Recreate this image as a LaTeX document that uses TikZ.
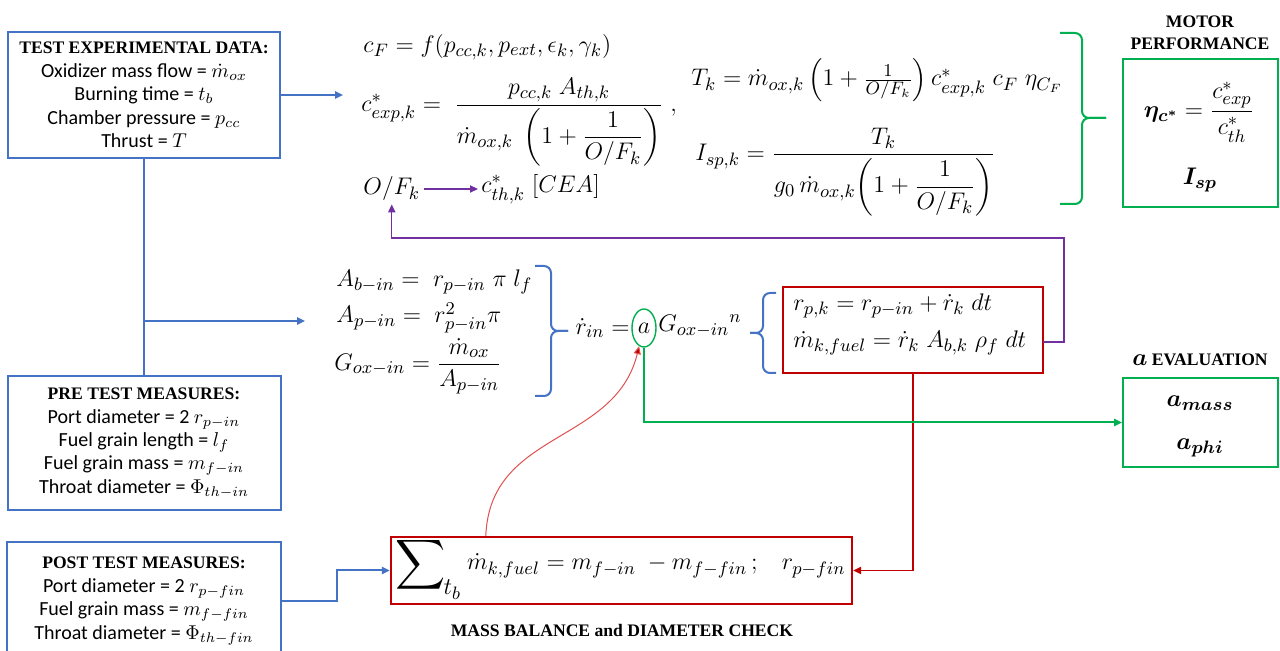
\documentclass[tikz,border=0pt]{standalone}
\usepackage{amsmath}
\usepackage{fontspec}
\setmainfont{Carlito}
\newfontfamily\hdrfont{Liberation Serif}
\usetikzlibrary{arrows.meta,calc,shapes.geometric}
\definecolor{cblue}{HTML}{4472C4}
\definecolor{cgreen}{HTML}{00B050}
\definecolor{cred}{HTML}{C00000}
\definecolor{cpurple}{HTML}{7030A0}
\definecolor{clred}{HTML}{E05050}
\newcommand{\hd}{\hdrfont\bfseries\fontsize{8.8}{11.5}\selectfont}
\tikzset{
  bluebox/.style={draw=cblue, line width=1pt, align=center, font=\fontsize{10}{11.7}\selectfont},
  greenbox/.style={draw=cgreen, line width=1pt},
  hdr/.style={font=\hdrfont\bfseries\fontsize{8.8}{11}\selectfont, inner sep=0pt},
  eq/.style={font=\fontsize{12.5}{15}\selectfont, inner sep=1.5pt},
  tipA/.tip={Triangle[length=4pt,width=3.6pt]},
  bluearrow/.style={cblue, line width=1pt, -tipA},
  blueline/.style={cblue, line width=1pt},
  redarrow/.style={cred, line width=0.8pt, -tipA},
  greenarrow/.style={cgreen, line width=1pt, -tipA},
  purplearrow/.style={cpurple, line width=0.7pt, -tipA},
  redthin/.style={clred, line width=0.5pt, -{Triangle[length=4pt,width=3.6pt,fill=cred]}},
  bracepath/.style={line width=1pt, rounded corners=3.5pt}
}
\begin{document}
\begin{tikzpicture}[x=0.5pt,y=-0.5pt]
\useasboundingbox (0,0) rectangle (1280,651);

% ---------------- left boxes
\node[bluebox, minimum width=136pt, minimum height=63pt] (ted) at (144,95)
 {{\hd TEST EXPERIMENTAL DATA:}\\ Oxidizer mass flow = $\dot{m}_{ox}$\\ Burning time = $t_b$\\ Chamber pressure = $p_{cc}$\\ Thrust = $T$};
\node[bluebox, minimum width=136.5pt, minimum height=67pt] (pre) at (144,443)
 {{\hd PRE TEST MEASURES:}\\ Port diameter = 2 $r_{p-in}$\\ Fuel grain length = $l_f$\\ Fuel grain mass = $m_{f-in}$\\ Throat diameter = $\Phi_{th-in}$};
\node[bluebox, draw=none, minimum width=136pt, minimum height=58pt] (post) at (144,601)
 {{\hd POST TEST MEASURES:}\\ Port diameter = 2 $r_{p-fin}$\\ Fuel grain mass = $m_{f-fin}$\\ Throat diameter = $\Phi_{th-fin}$};
\draw[blueline] (post.south west) |- (post.north east) -- (post.south east);

% ---------------- top equations
\node[eq, anchor=west] (cf) at (360,47) {$c_F = f(p_{cc,k}, p_{ext}, \epsilon_k, \gamma_k)$};
\node[eq, anchor=west] (cexp) at (358,122) {$c^*_{exp,k} = \;\dfrac{p_{cc,k}\;A_{th,k}}{\dot m_{ox,k}\;\left(1+\dfrac{1}{O/F_k}\right)}\;,$};
\node[eq, anchor=west] (of) at (360,189) {$O/F_k$};
\node[eq, anchor=west] (cth) at (478,189) {$c^*_{th,k}\;[CEA]$};
\node[eq, anchor=west] (tk) at (688,80) {$T_k = \dot m_{ox,k}\left(1+\tfrac{1}{O/F_k}\right) c^*_{exp,k}\; c_F\; \eta_{C_F}$};
\node[eq, anchor=west] (isp) at (692,172) {$I_{sp,k} = \dfrac{T_k}{g_0\,\dot m_{ox,k}\!\left(1+\dfrac{1}{O/F_k}\right)}$};

% ---------------- middle equations
\node[eq, anchor=west] (ab) at (333,282) {$A_{b-in} = \; r_{p-in}\;\pi\; l_f$};
\node[eq, anchor=west] (ap) at (333,318) {$A_{p-in} = \; r^2_{p-in}\pi$};
\node[eq, anchor=west] (gox) at (331,366) {$G_{ox-in} = \dfrac{\dot m_{ox}}{A_{p-in}}$};
\node[eq, anchor=east] (rin) at (633,328) {$\dot r_{in} =$};
\node[draw=cgreen, line width=0.7pt, ellipse, inner sep=0pt, minimum width=12pt, minimum height=19pt, font=\fontsize{12.5}{15}\selectfont] (acirc) at (644,328) {$a$};
\node[eq, anchor=west] (gn) at (655,326) {$G_{ox-in}{}^{n}$};

\node[draw=cred, line width=0.8pt, minimum width=130pt, minimum height=43pt] (rbox) at (913,330) {};
\node[eq, anchor=west] (rp) at (790,306) {$r_{p,k} = r_{p-in} + \dot r_k\; dt$};
\node[eq, anchor=west] (mk) at (790,343) {$\dot m_{k,fuel} = \dot r_k\; A_{b,k}\;\rho_f\; dt$};

% braces
\draw[cblue, bracepath] (535,266) -- (551,266) -- (551,331) -- (568,331);
\draw[cblue, bracepath] (535,396) -- (551,396) -- (551,331) -- (568,331);
\draw[cblue, bracepath] (776,293) -- (763,293) -- (763,333) -- (750,333);
\draw[cblue, bracepath] (776,373) -- (763,373) -- (763,333) -- (750,333);
\draw[cgreen, bracepath] (1060,33) -- (1082,33) -- (1082,118) -- (1106,118);
\draw[cgreen, bracepath] (1060,204) -- (1082,204) -- (1082,118) -- (1106,118);

% ---------------- bottom box
\node[draw=cred, line width=1.2pt, minimum width=230.5pt, minimum height=33.5pt] (sum) at (621.5,570.5) {};
\node[eq, anchor=west] (sumeq) at (392,568) {\raisebox{-0.3ex}{\scalebox{1.45}{$\displaystyle\sum$}}\kern-1pt\raisebox{-2.1ex}{$t_b$}\kern3pt$\dot m_{k,fuel} = m_{f-in}\; - m_{f-fin}\,;\;\;\; r_{p-fin}$};
\node[hdr] (mblabel) at (622,630) {MASS BALANCE and DIAMETER CHECK};

% ---------------- right boxes
\node[hdr, align=center] (mptitle) at (1200,33) {MOTOR\\PERFORMANCE};
\node[greenbox, minimum width=77.5pt, minimum height=74pt] (mpbox) at (1200.5,133) {};
\node[eq] (etaeq) at (1199,112) {$\boldsymbol{\eta_{c^*}} = \dfrac{c^*_{exp}}{c^*_{th}}$};
\node[eq] (ispb) at (1200,180) {$\boldsymbol{I_{sp}}$};
\node[hdr] (aevtitle) at (1200,360) {{\fontsize{12.5}{15}\selectfont$\boldsymbol{a}$} EVALUATION};
\node[greenbox, minimum width=77.5pt, minimum height=44.5pt] (aeval) at (1200.5,422.5) {};
\node[eq] (amass) at (1200,403) {$\boldsymbol{a_{mass}}$};
\node[eq] (aphi) at (1200,448) {$\boldsymbol{a_{phi}}$};

% ---------------- connectors
\coordinate (tein) at (343,95);
\draw[bluearrow] (ted.east) -- (tein);
\draw[blueline] (ted.south) -- (pre.north);
\coordinate (brs) at (144,321);
\coordinate (bre) at (305,321);
\draw[bluearrow] (brs) -- (bre);
\draw[bluearrow] (post.east) -- (337,601) |- (sum.west);
\draw[redarrow] (rbox.south) |- (sum.east);
\draw[greenarrow] (acirc.south) |- (aeval.west);
\coordinate (pout) at (1043,342);
\draw[purplearrow] (pout) -- (1064,342) -- (1064,238) -| (of.south);
\draw[purplearrow] (of.east) -- (cth.west);
\draw[redthin] ($(sum.north west)+(96,0)$) .. controls (490,430) and (615,445) .. (acirc.255);
\end{tikzpicture}
\end{document}
